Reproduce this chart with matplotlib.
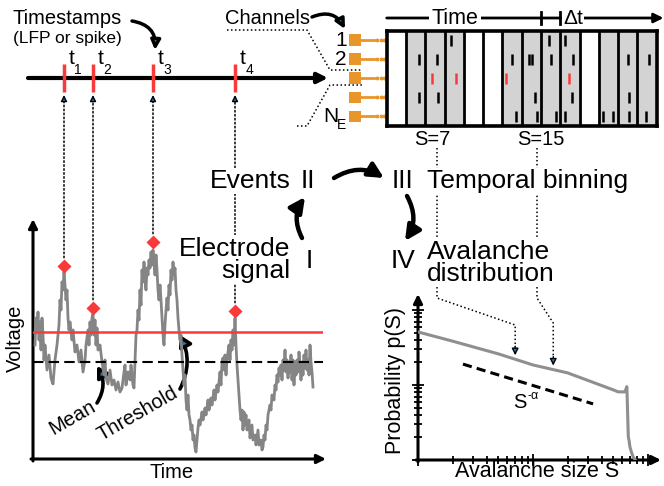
import numpy as np
import matplotlib
matplotlib.use("Agg")
import matplotlib.pyplot as plt
import matplotlib.transforms as mtransforms
from matplotlib.patches import Rectangle

plt.rcParams['font.family'] = ['Liberation Sans', 'DejaVu Sans']

# electrode signal: time (ms) and voltage (uV, relative to the mean)
sig_t = [2, 3, 4, 5, 6, 7, 8, 9, 10, 11,
         12, 14, 16, 18, 20, 22, 24, 26, 27, 28,
         29, 30, 31, 32, 33, 34, 35, 36, 37, 39,
         40, 42, 44, 46, 48, 50, 52, 53, 55, 56,
         57, 58, 59, 60, 61, 62, 63, 64, 65, 67,
         69, 71, 72, 73, 75, 77, 79, 81, 83, 85,
         87, 89, 91, 92, 93, 95, 97, 98, 100, 101,
         102, 103, 104, 105, 106, 107, 108, 109, 110, 111,
         112, 113, 114, 115, 116, 117, 118, 119, 120, 121,
         122, 123, 124, 125, 126, 127, 128, 129, 130, 131,
         132, 133, 134, 135, 136, 137, 138, 139, 140, 141,
         142, 143, 144, 145, 146, 147, 148, 149, 150, 151,
         152, 153, 154, 155, 156, 157, 158, 159, 160, 161,
         162, 163, 164, 165, 166, 167, 169, 170, 172, 173,
         175, 176, 178, 179, 181, 182, 184, 185, 187, 188,
         189, 190, 191, 192, 193, 194, 195, 196, 197, 198,
         199, 200, 201, 202, 203, 204, 205, 206, 207, 208,
         209, 210, 211, 212, 213, 214, 216, 217, 219, 220,
         222, 223, 225, 226, 228, 229, 230, 231, 232, 233,
         234, 235, 237, 238, 239, 241, 242, 243, 244, 245,
         246, 247, 248, 249, 250, 251, 252, 253, 254, 255,
         256, 257, 258, 259, 260, 261, 262, 263, 264, 265,
         266, 267, 268, 269, 270, 271, 272, 273, 274, 275,
         276, 277, 278, 279, 280]
sig_v = [17, 44, 32, 50, 22, 40, 12, 44, 27, 2,
         17, -8, 7, -16, -22, 2, 17, 37, 62, 52,
         80, 72, 90, 77, 62, 72, 44, 32, 40, 22,
         32, 10, 17, 0, 12, -10, 2, 17, 32, 17,
         40, 27, 44, 48, 27, 42, 17, 34, 12, 17,
         0, -13, 2, -16, -22, -8, -23, -18, -28, -20,
         -30, -26, -10, -3, -23, -10, -18, -3, -23, -26,
         0, 27, 32, 52, 42, 72, 57, 92, 80, 100,
         82, 72, 94, 87, 102, 94, 110, 97, 112, 100,
         87, 107, 92, 72, 62, 77, 62, 44, 27, 17,
         37, 52, 64, 52, 77, 67, 92, 82, 100, 87,
         94, 72, 62, 44, 32, 22, 27, 7, -8, -23,
         -13, -38, -48, -33, -53, -58, -68, -63, -78, -73,
         -86, -90, -78, -66, -58, -63, -50, -58, -46, -53,
         -38, -48, -36, -43, -28, -38, -23, -30, -10, -23,
         0, 4, -8, 7, -13, 2, 10, 17, 2, 22,
         12, 32, 17, 44, 17, -3, -18, -33, -48, -58,
         -48, -68, -50, -63, -53, -68, -58, -76, -63, -78,
         -73, -83, -68, -83, -78, -88, -85, -73, -78, -63,
         -68, -53, -43, -48, -33, -38, -23, -28, -13, -20,
         -6, -13, -3, -18, 2, -8, 12, -10, 2, -16,
         -3, -10, 7, -18, 2, -23, 0, -13, 2, -10,
         10, -3, -18, 0, -13, 7, -6, 12, -8, 2,
         -13, 17, 0, -10, -25]
mean_v = 0
thresh_v = 30
peak_t = [31, 60, 120, 202]
peak_v = [96, 54, 120, 51]

# raster of events, time in units of the bin width dt
n_bins = 14
n_chan = 5
ev_t = [1.69, 1.69, 2.59, 2.64, 3.33, 6.48, 6.70, 7.38, 7.55, 7.70, 7.78, 8.43, 8.50,
        8.76, 9.24, 9.66, 9.61, 9.26, 11.23, 11.72, 12.52, 12.56, 12.56, 13.58, 13.44]
ev_ch = [2, 4, 2, 4, 1, 2, 5, 2, 2, 4, 5, 1, 2,
         5, 1, 2, 4, 5, 5, 5, 2, 4, 5, 2, 5]
red_t = [2.36, 3.58, 6.18, 9.43]
red_ch = [3, 3, 3, 3]

# avalanche size distribution
aval_s = [1, 2, 5, 10, 20, 50, 55, 63, 65.5, 67.4, 68.5, 69.6, 72, 74.5, 78.5]
aval_p = [5.1e-3, 3.84e-3, 2.6e-3, 1.85e-3, 1.45e-3, 8.6e-4, 8.1e-4, 8.1e-4, 9.5e-4,
          2.05e-4, 1.8e-4, 1.5e-4, 1.25e-4, 1.09e-4, 9.8e-5]
fit_s = [2.46, 33.3]
fit_p = [1.9e-3, 5.6e-4]

RED = '#f93a3a'
ORANGE = '#e8952a'
DOT = (0, (1, 1.6))

W, H = 664, 486
fig = plt.figure(figsize=(W / 100, H / 100), dpi=100)
cv = fig.add_axes([0, 0, 1, 1])
cv.set_xlim(0, W)
cv.set_ylim(H, 0)
cv.axis('off')


def px_rect(x0, y0, x1, y1):
    return [x0 / W, 1 - y1 / H, (x1 - x0) / W, (y1 - y0) / H]


white = dict(fc='white', ec='none', pad=1)

# ---- electrode signal ----
ax_s = fig.add_axes(px_rect(33, 222, 323, 458))
ax_s.set_xlim(0, 290)
ax_s.set_ylim(-96, 140)
ax_s.axis('off')
ax_s.patch.set_visible(False)
ax_s.plot(sig_t, sig_v, color='#858585', lw=2.0, zorder=2)
ax_s.axhline(thresh_v, color=RED, lw=1.8, zorder=3)
ax_s.axhline(mean_v, color='k', lw=1.5, dashes=(5, 2.5), zorder=3)
ax_s.plot(peak_t, peak_v, 'D', color=RED, ms=7.2, mec='none', zorder=4)

ax_arrow = dict(arrowstyle='-|>', color='k', lw=2.2, mutation_scale=13, shrinkA=0, shrinkB=0)
cv.annotate('', xy=(33, 219), xytext=(33, 461), arrowprops=ax_arrow)
cv.annotate('', xy=(326, 459), xytext=(31, 459), arrowprops=ax_arrow)
cv.text(15, 338, 'Voltage', rotation=90, ha='center', va='center', fontsize=14.5)
cv.text(172, 472, 'Time', ha='center', va='center', fontsize=14.5)
cv.text(72, 418, 'Mean', rotation=30, ha='center', va='center', fontsize=14.5)
cv.text(138, 414, 'Threshold', rotation=30, ha='center', va='center', fontsize=14.5)
cv.annotate('', xy=(97, 366), xytext=(97, 403),
            arrowprops=dict(arrowstyle='-|>,head_length=0.5,head_width=0.3', lw=2.6, mutation_scale=13,
                            connectionstyle='arc3,rad=0.3', shrinkA=0, shrinkB=0))
cv.annotate('', xy=(180, 335), xytext=(180, 389),
            arrowprops=dict(arrowstyle='-|>,head_length=0.5,head_width=0.3', lw=2.6, mutation_scale=13,
                            connectionstyle='arc3,rad=0.25', shrinkA=0, shrinkB=0))

# ---- timeline of timestamps ----
bl = mtransforms.blended_transform_factory(ax_s.transData, cv.transData)
cv.annotate('', xy=(328, 78), xytext=(28, 78),
            arrowprops=dict(arrowstyle='-|>', color='k', lw=3, mutation_scale=15, shrinkA=0, shrinkB=0))
cv.vlines(peak_t, 64, 92, transform=bl, color=RED, lw=2.5, zorder=3)
for i, (t, v) in enumerate(zip(peak_t, peak_v)):
    cv.text(t, 59, 't', transform=mtransforms.offset_copy(bl, fig=fig, x=8, y=0, units='dots'),
            ha='center', va='center', fontsize=15)
    cv.text(t, 70, str(i + 1), transform=mtransforms.offset_copy(bl, fig=fig, x=14, y=0, units='dots'),
            ha='center', va='center', fontsize=10)
    cv.annotate('', xy=(t, 101), xycoords=bl, xytext=(t, v), textcoords=ax_s.transData,
                arrowprops=dict(arrowstyle='-', ls=DOT, lw=1.1, shrinkA=6, shrinkB=0))
    cv.annotate('', xy=(t, 95), xycoords=bl, xytext=(t, 102), textcoords=bl,
                arrowprops=dict(arrowstyle='-|>', lw=1, mutation_scale=9, shrinkA=0, shrinkB=0))

cv.text(67, 18, 'Timestamps', ha='center', va='center', fontsize=14.5)
cv.text(67, 38, '(LFP or spike)', ha='center', va='center', fontsize=12.5)
cv.annotate('', xy=(155, 50), xytext=(132, 21),
            arrowprops=dict(arrowstyle='-|>', lw=2.5, mutation_scale=14,
                            connectionstyle='arc3,rad=-0.45', shrinkA=0, shrinkB=0))

# ---- raster / temporal binning ----
ax_r = fig.add_axes(px_rect(386.7, 30.7, 656.7, 126))
ax_r.set_xlim(0, n_bins)
ax_r.set_ylim(n_chan + 0.5, 0.5)
ax_r.set_xticks([])
ax_r.set_yticks([])
for sp in ax_r.spines.values():
    sp.set_linewidth(2.6)
all_t = np.concatenate([ev_t, red_t])
counts = np.histogram(all_t, bins=np.arange(n_bins + 1))[0]
for i, c in enumerate(counts):
    if c > 0:
        ax_r.axvspan(i, i + 1, color='#d3d3d3', lw=0, zorder=0)
for i in range(1, n_bins):
    ax_r.axvline(i, color='k', lw=2.0, zorder=1)
ax_r.vlines(ev_t, np.array(ev_ch) - 0.28, np.array(ev_ch) + 0.28, color='k', lw=1.8, zorder=2)
ax_r.vlines(red_t, np.array(red_ch) - 0.28, np.array(red_ch) + 0.28, color=RED, lw=1.8, zorder=2)

# avalanche sizes = events in runs of non-empty bins
runs = []
i = 0
while i < n_bins:
    if counts[i] > 0:
        j = i
        while j < n_bins and counts[j] > 0:
            j += 1
        runs.append(int(counts[i:j].sum()))
        i = j
    else:
        i += 1
label_x = [432, 541]
for s, lx in zip(runs[:2], label_x):
    cv.text(lx, 139, 'S=%d' % s, ha='center', va='center', fontsize=14.5)

bl_r = mtransforms.blended_transform_factory(ax_r.transData, cv.transData)
cv.annotate('', xy=(14.35, 18), xycoords=bl_r, xytext=(0, 18), textcoords=bl_r,
            arrowprops=dict(arrowstyle='-|>', color='k', lw=2, mutation_scale=14, shrinkA=0, shrinkB=0))
cv.plot([8, 8], [12, 24], color='k', lw=2, transform=bl_r)
cv.plot([9, 9], [12, 24], color='k', lw=2, transform=bl_r)
cv.text(455, 18, 'Time', ha='center', va='center', fontsize=15.5, bbox=dict(fc='white', ec='none', pad=2), zorder=4)
cv.text(563, 18, '\u0394t', ha='left', va='center', fontsize=15, bbox=dict(fc='white', ec='none', pad=1), zorder=4)

# channel electrodes
bl_c = mtransforms.blended_transform_factory(cv.transData, ax_r.transData)
for ch in range(1, n_chan + 1):
    cv.add_patch(Rectangle((349, ch - 0.31), 12, 0.62, transform=bl_c, color=ORANGE, lw=0))
    cv.plot([361, 374], [ch, ch], color=ORANGE, lw=2, transform=bl_c)
    cv.plot([377, 380.5, 384], [ch] * 3, 'o', color=ORANGE, ms=1.8, transform=bl_c)
cv.text(341, 1, '1', transform=bl_c, ha='center', va='center', fontsize=15)
cv.text(341, 2, '2', transform=bl_c, ha='center', va='center', fontsize=15)
cv.text(331, 5, 'N', transform=bl_c, ha='center', va='center', fontsize=15)
cv.text(342, 5.45, 'E', transform=bl_c, ha='center', va='center', fontsize=10)
cv.text(267, 18, 'Channels', ha='center', va='center', fontsize=14.5)
cv.annotate('', xy=(345, 29), xytext=(312, 17),
            arrowprops=dict(arrowstyle='-|>', lw=2.5, mutation_scale=14,
                            connectionstyle='arc3,rad=-0.45', shrinkA=0, shrinkB=0))
cv.plot([227, 307, 330, 362], [30, 30, 70, 70], color='k', ls=DOT, lw=1.1)
cv.plot([297, 307, 330, 362], [126, 126, 85, 85], color='k', ls=DOT, lw=1.1)

# ---- avalanche distribution ----
ax_l = fig.add_axes(px_rect(418, 297, 658, 460))
ax_l.set_xscale('log')
ax_l.set_yscale('log')
ax_l.set_xlim(1, 10 ** (240 / 115))
ax_l.set_ylim(1e-4, 10 ** (-4 + 163 / 75))
ax_l.patch.set_visible(False)
for sp in ax_l.spines.values():
    sp.set_visible(False)
ax_l.tick_params(which='both', direction='inout', width=1.3, labelleft=False, labelbottom=False)
ax_l.tick_params(which='major', length=9)
ax_l.tick_params(which='minor', length=6)
ax_l.plot(aval_s, aval_p, color='#8f8f8f', lw=2.2, clip_on=True)
ax_l.plot(fit_s, fit_p, color='k', lw=2.2, dashes=(3, 1.7))
cv.annotate('', xy=(418, 294), xytext=(418, 462), arrowprops=ax_arrow)
cv.annotate('', xy=(661, 460), xytext=(416, 460), arrowprops=ax_arrow)
cv.text(520, 402, 'S', ha='center', va='center', fontsize=14.5)
cv.text(533, 396, '-\u03b1', ha='center', va='center', fontsize=9)
cv.text(396, 380, 'Probability p(S)', rotation=90, ha='center', va='center', fontsize=15.5)
cv.text(537, 471, 'Avalanche size S', ha='center', va='center', fontsize=15.5)

# dotted pointers from the avalanche sizes to the distribution
drop_x = [437, 537]
kink_y = [325, 323]
ls_ = np.log10(aval_s[:6])
lp_ = np.log10(aval_p[:6])
for s, dx, ky in zip(runs[:2], drop_x, kink_y):
    ps = 10 ** np.interp(np.log10(s), ls_, lp_)
    tip = cv.transData.inverted().transform(ax_l.transData.transform((s, ps)))
    cv.plot([dx, dx, tip[0], tip[0]], [148, 298, ky, tip[1] - 12], color='k', ls=DOT, lw=1.1)
    cv.annotate('', xy=(tip[0], tip[1] - 4), xytext=(tip[0], tip[1] - 13),
                arrowprops=dict(arrowstyle='-|>', lw=1, mutation_scale=10, shrinkA=0, shrinkB=0))

# ---- stage labels ----
big = 19
cv.text(250, 188, 'Events', ha='center', va='baseline', fontsize=big, bbox=white, zorder=4)
cv.text(308, 188, 'II', ha='center', va='baseline', fontsize=big)
cv.text(403, 188, 'III', ha='center', va='baseline', fontsize=big)
cv.text(427, 188, 'Temporal binning', ha='left', va='baseline', fontsize=big, bbox=white, zorder=4)
cv.text(290, 278, 'Electrode\nsignal', ha='right', va='baseline', multialignment='right',
        linespacing=0.92, fontsize=big, bbox=white, zorder=4)
cv.text(309, 268, 'I', ha='center', va='baseline', fontsize=big)
cv.text(403, 268, 'IV', ha='center', va='baseline', fontsize=big)
cv.text(427, 281, 'Avalanche\ndistribution', ha='left', va='baseline', multialignment='left',
        linespacing=0.92, fontsize=big, bbox=white, zorder=4)

stage = dict(arrowstyle='-|>,head_length=0.5,head_width=0.25', lw=3.2, mutation_scale=18,
             connectionstyle='arc3,rad=-0.3', shrinkA=0, shrinkB=0, color='k')
cv.annotate('', xy=(305, 197), xytext=(302, 238), arrowprops=stage)
cv.annotate('', xy=(384, 178), xytext=(334, 178), arrowprops=stage)
cv.annotate('', xy=(405, 241), xytext=(407, 196), arrowprops=stage)

fig.savefig('out.png', dpi=100)
